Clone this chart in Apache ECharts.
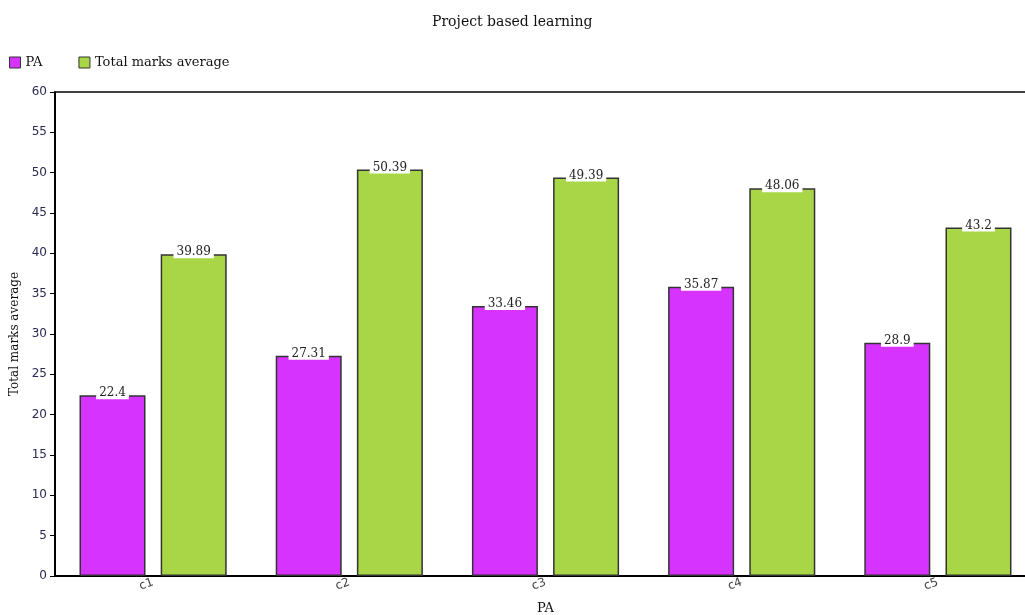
<!DOCTYPE html>
<html><head><meta charset="utf-8">
<script src="https://cdn.jsdelivr.net/npm/echarts@6/dist/echarts.min.js"></script>
<style>html,body{margin:0;padding:0;background:#fff;overflow:hidden}#c{width:1036px;height:615px}</style>
</head><body><div id="c"></div>
<script>
const categories = ['c1','c2','c3','c4','c5'];
const paValues = [22.4, 27.31, 33.46, 35.87, 28.9];
const totalValues = [39.89, 50.39, 49.39, 48.06, 43.2];
const yTicks = {min: 0, max: 60, interval: 5};

const serif = '"DejaVu Serif", "Liberation Serif", serif';
const sans = '"DejaVu Sans", sans-serif';
const chart = echarts.init(document.getElementById('c'));
const labelStyle = {
  show: true, position: 'top', distance: -4,
  fontFamily: serif, fontSize: 12, color: '#222',
  backgroundColor: '#fff', padding: [1, 3, 0, 3]
};
chart.setOption({
  animation: false,
  title: {text: 'Project based learning', left: 427, top: 10,
    textStyle: {fontFamily: serif, fontSize: 14, fontWeight: 'normal', color: '#111'}},
  legend: {left: 4, top: 51, itemWidth: 11, itemHeight: 11, itemGap: 36, icon: 'rect',
    itemStyle: {borderColor: '#333', borderWidth: 1},
    textStyle: {fontFamily: serif, fontSize: 13, color: '#111'},
    data: ['PA', 'Total marks average']},
  grid: {left: 55, right: 0, top: 92, bottom: 39, outerBoundsMode: 'none', containLabel: false},
  xAxis: {type: 'category', data: categories, name: 'PA', nameLocation: 'middle', nameGap: 26,
    nameTextStyle: {fontFamily: serif, fontSize: 13, color: '#111'},
    axisLine: {lineStyle: {color: '#000', width: 2}},
    axisTick: {alignWithLabel: true, length: 5, lineStyle: {color: '#000'}},
    axisLabel: {rotate: 20, fontFamily: sans, fontSize: 12, color: '#444', margin: 6}},
  yAxis: {type: 'value', min: yTicks.min, max: yTicks.max, interval: yTicks.interval,
    name: 'Total marks average', nameLocation: 'middle', nameGap: 34,
    nameTextStyle: {fontFamily: serif, fontSize: 12, color: '#111'},
    axisLine: {show: true, lineStyle: {color: '#000', width: 2}},
    axisTick: {show: true, length: 5, lineStyle: {color: '#000'}},
    axisLabel: {fontFamily: sans, fontSize: 12, color: '#2a2a55', margin: 8},
    splitLine: {show: false}},
  graphic: [{type: 'line', shape: {x1: 55, y1: 92, x2: 1036, y2: 92}, style: {stroke: '#000', lineWidth: 1.5}}],
  series: [
    {name: 'PA', type: 'bar', data: paValues, barWidth: 66, barGap: '23%',
      itemStyle: {color: '#d633ff', borderColor: '#333', borderWidth: 1.5}, label: labelStyle},
    {name: 'Total marks average', type: 'bar', data: totalValues, barWidth: 66,
      itemStyle: {color: '#a8d647', borderColor: '#333', borderWidth: 1.5}, label: labelStyle}
  ]
});
</script></body></html>
